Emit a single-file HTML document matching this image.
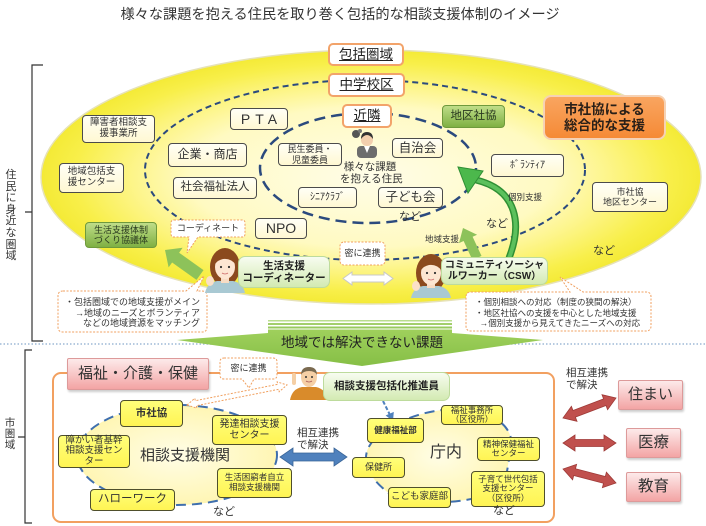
<!DOCTYPE html>
<html><head><meta charset="utf-8">
<style>
*{margin:0;padding:0}
body{width:706px;height:526px;overflow:hidden;background:#fff;position:relative;font-family:"Liberation Sans","Noto Sans CJK JP",sans-serif;color:#333}
svg{position:absolute;left:0;top:0}
.t{position:absolute;white-space:nowrap;line-height:1.15}
.b{position:absolute;box-sizing:border-box;display:flex;align-items:center;justify-content:center;text-align:center;white-space:nowrap;line-height:1.15}
.y{border:1px solid #4b4b4b;border-radius:4px;background:linear-gradient(#fffff6,#fff8d2)}
.o{border:2px solid #f2a36a;border-radius:5px;background:#fff;text-decoration:underline;color:#222}
.g{border:1px solid #6f9a3c;border-radius:4px;background:linear-gradient(#bfdd88,#7fb043);color:#2a3a20}
.lg{border:1px solid #bddb9c;border-radius:7px;background:linear-gradient(#f7fcf0,#d3eab2);font-weight:bold;color:#222}
.yy{border:1.5px solid #4f4f2c;border-radius:4px;background:linear-gradient(#ffff7a,#fff454);color:#333}
.pk{border:1px solid #dd9a9a;border-radius:2px;background:linear-gradient(#fdeaea,#f3a4a4);color:#333;box-shadow:1px 2px 2px rgba(0,0,0,.2)}
</style></head><body>
<svg width="706" height="526" viewBox="0 0 706 526">
<defs>
<radialGradient id="yg" cx="0.5" cy="0.5" r="0.5">
<stop offset="0" stop-color="#fffde8"/>
<stop offset="0.55" stop-color="#fffac2"/>
<stop offset="0.72" stop-color="#fdf58a"/>
<stop offset="0.9" stop-color="#f8ef4a"/>
<stop offset="1" stop-color="#f4ea36"/>
</radialGradient>
<radialGradient id="pg" cx="0.5" cy="0.5" r="0.5">
<stop offset="0" stop-color="#fffde6"/>
<stop offset="1" stop-color="#fff6b4"/>
</radialGradient>
<linearGradient id="ga" x1="0" y1="0" x2="0" y2="1">
<stop offset="0" stop-color="#9fd05c"/>
<stop offset="1" stop-color="#86bf46"/>
</linearGradient>
</defs>

<ellipse cx="371" cy="177" rx="330" ry="127" fill="url(#yg)" stroke="#e6e2b8" stroke-width="1.5"/>
<ellipse cx="365" cy="170" rx="220" ry="90" fill="none" stroke="#2b4a7e" stroke-width="2" stroke-dasharray="6 4"/>
<ellipse cx="368" cy="168" rx="108" ry="55" fill="none" stroke="#2b4a7e" stroke-width="2.5" stroke-dasharray="11 6"/>

<g stroke="#333" stroke-width="1.2" fill="none">
<path d="M43 65 H32 V341 H43 M25 212 H32"/>
<path d="M32 350 H25 V523 H32 M18 437 H25"/>
</g>

<path d="M509 258 C522 225 518 190 476 180" fill="none" stroke="#2f8f34" stroke-width="7"/>
<path d="M509 258 C522 225 518 190 476 180" fill="none" stroke="#5cc05c" stroke-width="4"/>
<polygon points="458,167 483,171 468,193" fill="#4cb84c" stroke="#2f8f34" stroke-width="1"/>

<polygon points="481.5,255.9 472.6,236.8 477.1,234.7 463,228 459.0,243.1 463.6,241.0 472.5,260.1" fill="#8dc25a"/>
<polygon points="203.5,270.1 179.1,252.7 182.6,247.8 165,250 168.6,267.4 172.1,262.5 196.5,279.9" fill="#8dc25a"/>

<polygon points="343,278.5 352,272 352,275 384,275 384,272 393,278.5 384,285 384,282 352,282 352,285" fill="#fff" stroke="#c8c8c8" stroke-width="1"/>

<line x1="0" y1="344" x2="706" y2="344" stroke="#9db9d6" stroke-width="1.5" stroke-dasharray="1.5 2"/>

<rect x="268" y="320" width="184" height="1.5" fill="#b9dd8e"/>
<rect x="268" y="323" width="184" height="2" fill="#a3cf6c"/>
<rect x="268" y="326.5" width="184" height="2" fill="#98ca5e"/>
<polygon points="268,329.5 452,329.5 452,333 543,340 362,366 177,340 268,333" fill="url(#ga)"/>

<rect x="53" y="373" width="501" height="149" rx="8" fill="none" stroke="#f2a060" stroke-width="2"/>

<ellipse cx="177" cy="455" rx="100" ry="50" fill="url(#pg)" stroke="#3f6fae" stroke-width="2" stroke-dasharray="10 6"/>

<path d="M395 425 C420 410 460 405 480 413 C510 420 515 440 510 455 C505 475 510 490 480 497 C450 505 400 505 385 490 C370 478 360 460 370 445 C378 432 385 428 395 425 Z" fill="url(#pg)" stroke="#3f6fae" stroke-width="2" stroke-dasharray="10 6"/>

<polygon points="280,457 293,466 293,461 334,461 334,466 347,457 334,448 334,453 293,453 293,448" fill="#4f81bd" stroke="#3a6598" stroke-width="0.8"/>

<line x1="383" y1="401" x2="389.5" y2="414" stroke="#4f81bd" stroke-width="2" stroke-dasharray="4 2"/>
<polygon points="393,421 393.8,411.9 385.6,415.5" fill="#4f81bd"/>

<g fill="#c0504d" stroke="#9e3a37" stroke-width="0.8">
<polygon points="563,418 577.0,421.3 575.4,417.1 606.0,405.5 607.6,409.7 616,398 602.0,394.7 603.6,398.9 573.0,410.5 571.4,406.3"/>
<polygon points="563,443 575,451 575,446.5 604,446.5 604,451 616,443 604,435 604,439.5 575,439.5 575,435"/>
<polygon points="563,469 572.6,479.8 573.7,475.5 603.5,483.3 602.4,487.6 616,483 606.4,472.2 605.3,476.5 575.5,468.7 576.6,464.4"/>
</g>

<polygon points="187,405 196.8,408.1 196.3,405.7 278.7,389.3 279.2,391.7 287,385 277.2,381.9 277.7,384.3 195.3,400.7 194.8,398.3" fill="#fff" stroke="#f0a060" stroke-width="1" stroke-dasharray="2 1.5"/>

<g fill="#fff" stroke="#f0a060" stroke-width="1" stroke-dasharray="2 1.5">
<path d="M174 220 H242 Q245 220 245 223 V234 Q245 237 242 237 H198 L187 253 L189 237 H174 Q171 237 171 234 V223 Q171 220 174 220 Z"/>
<path d="M63 291 H186 L204 276 L197 291 H202 Q207 291 207 296 V327 Q207 332 202 332 H63 Q58 332 58 327 V296 Q58 291 63 291 Z"/>
<rect x="340" y="242" width="45" height="23" rx="4"/>
<path d="M471 292 H570 L560 277 L583 292 H646 Q651 292 651 297 V326 Q651 331 646 331 H471 Q466 331 466 326 V297 Q466 292 471 292 Z"/>
<path d="M224 358 H273 Q277 358 277 362 V375 Q277 379 273 379 H254 L249 388 L242 379 H224 Q220 379 220 375 V362 Q220 358 224 358 Z"/>
</g>

<g>
<circle cx="356" cy="134" r="4" fill="#555"/>
<circle cx="360" cy="131" r="2" fill="#777"/>
<rect x="357" y="146" width="20" height="12" rx="4" fill="#6d6d6d"/>
<polygon points="364,146 370,146 367,153" fill="#fff"/>
<circle cx="367" cy="140" r="6" fill="#f3cfae"/>
<path d="M361 139 Q361 132 367 132 Q373 132 373 139 Q370 135 367 135 Q364 135 361 139 Z" fill="#333"/>
</g>

<g transform="translate(203,247)">
<ellipse cx="22" cy="20" rx="15" ry="19" fill="#8b4a1e"/>
<path d="M2 46 Q4 36 14 34 L30 34 Q40 36 42 46 Z" fill="#a9c9d3"/>
<rect x="18" y="29" width="8" height="7" fill="#f8dcc4"/>
<ellipse cx="22" cy="20" rx="10" ry="12" fill="#fde6d2"/>
<path d="M12 17 Q13 6 22 6 Q32 6 33 18 Q28 11 20 12 Q15 13 12 17 Z" fill="#8b4a1e"/>
<circle cx="18" cy="20" r="1.1" fill="#333"/>
<circle cx="26" cy="20" r="1.1" fill="#333"/>
<path d="M19 26 Q22 28 25 26" stroke="#c66" stroke-width="0.8" fill="none"/>
<ellipse cx="7" cy="34" rx="4" ry="5" fill="#fbe0c8"/>
</g>

<g transform="translate(409,253)">
<ellipse cx="22" cy="20" rx="15" ry="19" fill="#8b4a1e"/>
<path d="M2 45 Q4 35 14 33 L30 33 Q40 35 42 45 Z" fill="#a9c9d3"/>
<rect x="18" y="29" width="8" height="6" fill="#f8dcc4"/>
<ellipse cx="22" cy="20" rx="10" ry="12" fill="#fde6d2"/>
<path d="M12 17 Q13 6 22 6 Q32 6 33 18 Q28 11 20 12 Q15 13 12 17 Z" fill="#8b4a1e"/>
<circle cx="18" cy="20" r="1.1" fill="#333"/>
<circle cx="26" cy="20" r="1.1" fill="#333"/>
<path d="M19 26 Q22 28 25 26" stroke="#c66" stroke-width="0.8" fill="none"/>
<ellipse cx="7" cy="33" rx="4" ry="5" fill="#fbe0c8"/>
</g>

<g transform="translate(290,365)">
<path d="M0 35 Q2 24 12 22 L26 22 Q36 24 37 35 Z" fill="#d98b2b"/>
<ellipse cx="19" cy="12" rx="8" ry="10" fill="#f5cfa5"/>
<path d="M11 10 Q11 2 19 2 Q27 2 27 10 Q25 6 19 6 Q13 6 11 10 Z" fill="#7a6a50"/>
<circle cx="16" cy="12" r="1" fill="#333"/>
<circle cx="22" cy="12" r="1" fill="#333"/>
<path d="M16 16 Q19 18 22 16" stroke="#a55" stroke-width="0.8" fill="none"/>
<rect x="2" y="8" width="4" height="12" rx="2" fill="#f5cfa5"/>
</g>
</svg>

<div class="t" style="left:0;width:680px;top:7px;text-align:center;font-size:14.2px;color:#333">様々な課題を抱える住民を取り巻く包括的な相談支援体制のイメージ</div>

<div class="t" style="left:5px;top:170px;width:12px;font-size:11px;line-height:11.6px;text-align:center;white-space:normal">住<br>民<br>に<br>身<br>近<br>な<br>圏<br>域</div>
<div class="t" style="left:4px;top:418px;width:12px;font-size:10.5px;line-height:11px;text-align:center;white-space:normal">市<br>圏<br>域</div>

<div class="b o" style="left:328px;top:43px;width:76px;height:23px;font-size:13.5px">包括圏域</div>
<div class="b o" style="left:328px;top:73px;width:77px;height:24px;font-size:13.5px">中学校区</div>
<div class="b o" style="left:342px;top:104px;width:50px;height:24px;font-size:13.5px">近隣</div>

<div class="b y" style="left:82px;top:115px;width:73px;height:28px;font-size:9.5px">障害者相談支<br>援事業所</div>
<div class="b y" style="left:230px;top:108px;width:58px;height:22px;font-size:14px;letter-spacing:5px;padding-left:5px">PTA</div>
<div class="b y" style="left:59px;top:163px;width:65px;height:30px;font-size:9.5px">地域包括支<br>援センター</div>
<div class="b y" style="left:168px;top:143px;width:79px;height:24px;font-size:12px">企業・商店</div>
<div class="b y" style="left:173px;top:177px;width:84px;height:22px;font-size:11.5px">社会福祉法人</div>
<div class="b y" style="left:278px;top:143px;width:64px;height:23px;font-size:9px">民生委員・<br>児童委員</div>
<div class="b y" style="left:298px;top:187px;width:59px;height:21px;font-size:10px">ｼﾆｱｸﾗﾌﾞ</div>
<div class="b y" style="left:392px;top:138px;width:51px;height:20px;font-size:12.5px">自治会</div>
<div class="b y" style="left:378px;top:187px;width:65px;height:21px;font-size:12.5px">子ども会</div>
<div class="b y" style="left:255px;top:218px;width:52px;height:21px;font-size:14px">NPO</div>
<div class="b y" style="left:491px;top:154px;width:73px;height:23px;font-size:10px">ﾎﾞﾗﾝﾃｨｱ</div>
<div class="b y" style="left:592px;top:182px;width:76px;height:30px;font-size:9px">市社協<br>地区センター</div>

<div class="b g" style="left:442px;top:105px;width:63px;height:23px;font-size:11.5px">地区社協</div>
<div class="b" style="left:543px;top:95px;width:123px;height:45px;font-size:13.5px;font-weight:bold;color:#2a2018;border:2px solid #f6d2b4;border-radius:8px;background:linear-gradient(#f9a560,#f58a36)">市社協による<br>総合的な支援</div>
<div class="b g" style="left:85px;top:222px;width:72px;height:26px;font-size:9px">生活支援体制<br>づくり協議体</div>

<div class="t" style="left:340px;top:162px;width:60px;text-align:center;font-size:10.5px;line-height:11.5px">様々な課題<br>を抱える住民</div>
<div class="t" style="left:399px;top:211px;font-size:11px">など</div>
<div class="t" style="left:486px;top:218px;font-size:11px">など</div>
<div class="t" style="left:593px;top:245px;font-size:11px">など</div>
<div class="t" style="left:508px;top:193px;font-size:8.5px">個別支援</div>
<div class="t" style="left:425px;top:235px;font-size:8.5px">地域支援</div>

<div class="t" style="left:171px;top:223px;width:74px;text-align:center;font-size:9px">コーディネート</div>
<div class="t" style="left:340px;top:248px;width:45px;text-align:center;font-size:9px">密に連携</div>

<div class="b lg" style="left:238px;top:256px;width:92px;height:32px;font-size:10.5px">生活支援<br>コーディネーター</div>
<div class="b lg" style="left:441px;top:257px;width:107px;height:28px;font-size:10px">コミュニティソーシャ<br>ルワーカー（CSW）</div>

<div class="t" style="left:58px;top:297px;width:142px;text-align:right;font-size:9px;line-height:10.5px">・包括圏域での地域支援がメイン<br>→地域のニーズとボランティア<br>などの地域資源をマッチング</div>
<div class="t" style="left:475px;top:297px;font-size:8.5px;line-height:10.5px">・個別相談への対応（制度の狭間の解決）<br>・地区社協への支援を中心とした地域支援<br>&nbsp;&nbsp;→個別支援から見えてきたニーズへの対応</div>

<div class="t" style="left:262px;top:335px;width:200px;text-align:center;font-size:13.5px;line-height:16px;color:#222">地域では解決できない課題</div>

<div class="b pk" style="left:67px;top:358px;width:142px;height:32px;font-size:15px">福祉・介護・保健</div>
<div class="t" style="left:220px;top:363px;width:57px;text-align:center;font-size:9px">密に連携</div>
<div class="b lg" style="left:323px;top:372px;width:127px;height:29px;font-size:10.5px">相談支援包括化推進員</div>

<div class="b yy" style="left:120px;top:400px;width:63px;height:27px;font-size:10.5px;font-weight:bold">市社協</div>
<div class="b yy" style="left:212px;top:415px;width:75px;height:30px;font-size:10px">発達相談支援<br>センター</div>
<div class="b yy" style="left:58px;top:435px;width:72px;height:33px;font-size:9.5px;line-height:1.1">障がい者基幹<br>相談支援セン<br>ター</div>
<div class="t" style="left:140px;top:447px;font-size:15px">相談支援機関</div>
<div class="b yy" style="left:217px;top:468px;width:75px;height:30px;font-size:8.5px">生活困窮者自立<br>相談支援機関</div>
<div class="b yy" style="left:90px;top:489px;width:85px;height:22px;font-size:11.5px">ハローワーク</div>
<div class="t" style="left:213px;top:506px;font-size:11px">など</div>

<div class="t" style="left:297px;top:427px;font-size:10.5px;line-height:12px">相互連携<br>で解決</div>

<div class="b yy" style="left:367px;top:418px;width:57px;height:25px;font-size:8.5px;font-weight:bold">健康福祉部</div>
<div class="b yy" style="left:352px;top:457px;width:53px;height:21px;font-size:9px">保健所</div>
<div class="b yy" style="left:388px;top:487px;width:63px;height:21px;font-size:9.5px">こども家庭部</div>
<div class="b yy" style="left:441px;top:405px;width:62px;height:20px;font-size:8.5px;line-height:1.05">福祉事務所<br>（区役所）</div>
<div class="b yy" style="left:477px;top:437px;width:63px;height:24px;font-size:8.5px;line-height:1.05">精神保健福祉<br>センター</div>
<div class="b yy" style="left:471px;top:471px;width:74px;height:36px;font-size:8.5px;line-height:1.1">子育て世代包括<br>支援センター<br>（区役所）</div>
<div class="t" style="left:430px;top:444px;font-size:16px">庁内</div>
<div class="t" style="left:493px;top:505px;font-size:11px">など</div>

<div class="t" style="left:566px;top:367px;font-size:10.5px;line-height:12px">相互連携<br>で解決</div>
<div class="b pk" style="left:618px;top:380px;width:65px;height:30px;font-size:15px">住まい</div>
<div class="b pk" style="left:626px;top:428px;width:55px;height:30px;font-size:15.5px">医療</div>
<div class="b pk" style="left:626px;top:472px;width:55px;height:30px;font-size:15.5px">教育</div>
</body></html>
